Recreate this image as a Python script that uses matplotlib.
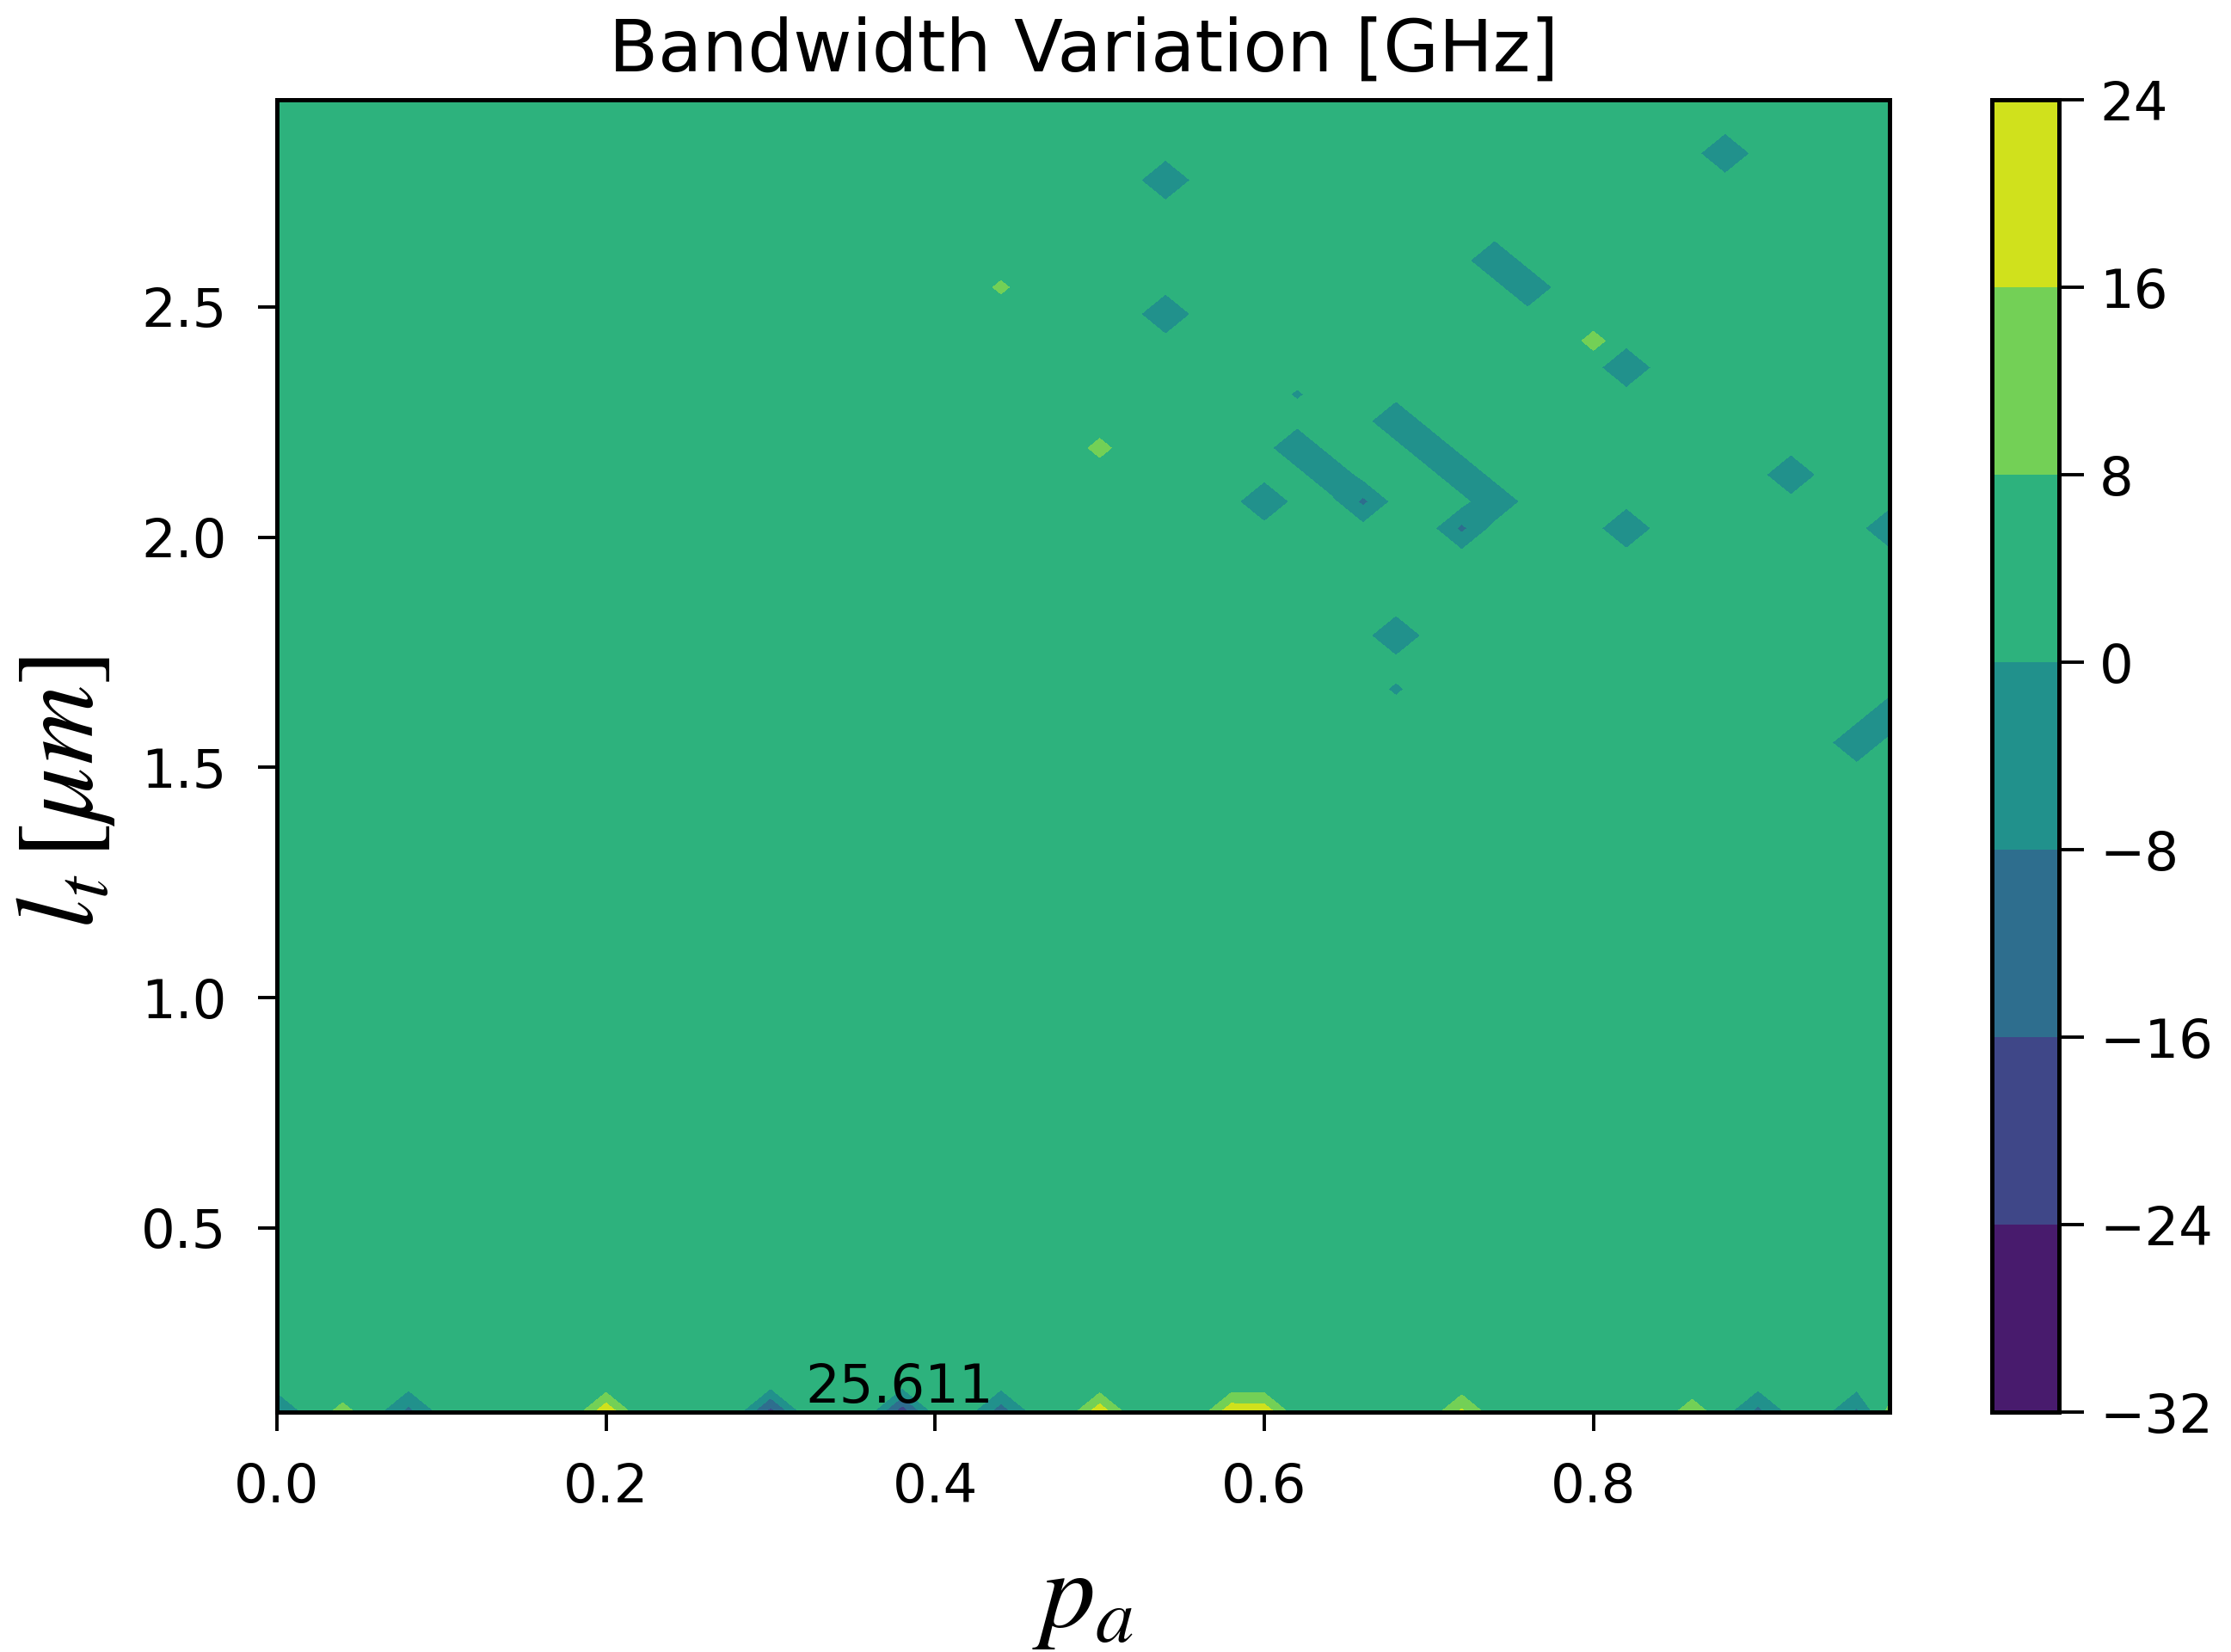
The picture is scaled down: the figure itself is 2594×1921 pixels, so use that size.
import numpy as np
import matplotlib
matplotlib.use("Agg")
import matplotlib.pyplot as plt

plt.rcParams['mathtext.fontset'] = 'stix'

# grid of the sweep
p_a = np.round(np.arange(0, 1.0, 0.02), 2)       # 50 points, 0 .. 0.98
l_t = np.linspace(0.1, 2.95, 50)                  # 50 points, 0.1 .. 2.95
base_val = 2.5                                    # almost everything sits in the 0..8 band

# bottom row (l_t = 0.1) : column index, value [GHz]
edge_i = [0, 2, 4, 10, 15, 19, 22, 25, 29, 30, 36, 43, 45, 48, 49]
edge_v = [-7, 11, -11, 23, -20, -22, -13, 22, 22.5, 22, 18, 13, -11, -10, 11]

# isolated points / streaks further up : (column, row, value)
spot_i = [27, 27, 44, 22, 25, 40, 41, 31, 34, 30, 34, 41, 46, 49,
          37, 38, 34, 35, 36, 37, 36, 31, 32, 33, 48, 49]
spot_j = [46, 41, 47, 42, 36, 40, 39, 38, 27, 34, 29, 33, 35, 33,
          43, 42, 37, 36, 35, 34, 33, 36, 35, 34, 25, 26]
spot_v = [-7.5, -7.5, -7.5, 9.8, 11, 11, -7.5, -0.6, -0.8, -7.5, -7.5, -7.5, -7.5, -7.5,
          -7.5, -7.5, -7.5, -7.5, -7.5, -7.5, -10, -7.5, -7.5, -10, -7.5, -7.5]

levels = np.arange(-32, 25, 8)

Z = np.full((len(l_t), len(p_a)), base_val)
for i, v in zip(edge_i, edge_v):
    Z[0, i] = v
for i, j, v in zip(spot_i, spot_j, spot_v):
    Z[j, i] = v

X, Y = np.meshgrid(p_a, l_t)

fig = plt.figure(figsize=(12.97, 9.605), dpi=200)
ax = fig.add_axes([0.1241, 0.1452, 0.7229, 0.7944])
cax = fig.add_axes([0.8928, 0.1452, 0.0301, 0.7944])

cs = ax.contourf(X, Y, Z, levels=levels, cmap='viridis')
cb = fig.colorbar(cs, cax=cax)

ax.text(0.3785, 0.12, '25.611', ha='center', va='baseline', fontsize=22.5)

ax.set_title('Bandwidth Variation [GHz]', fontsize=30, pad=12)
ax.set_xlabel('$p_a$', fontsize=46)
ax.set_ylabel(r'$l_t\,[\mu m]$', fontsize=46)
ax.xaxis.set_label_coords(0.5, -0.100)
ax.yaxis.set_label_coords(-0.099, 0.472)

ax.set_xticks([0.0, 0.2, 0.4, 0.6, 0.8])
ax.set_yticks([0.5, 1.0, 1.5, 2.0, 2.5])
ax.tick_params(labelsize=22.5, length=8, width=1.4, pad=13)
for s in ax.spines.values():
    s.set_linewidth(1.8)

cb.ax.tick_params(labelsize=22.5, length=10.5, width=1.4, pad=6.5)
cb.outline.set_linewidth(1.8)

fig.savefig('out.png', dpi=200)
